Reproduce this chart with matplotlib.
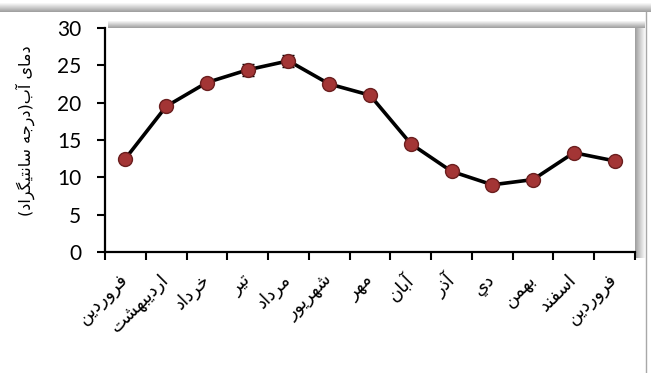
import numpy as np
import matplotlib
matplotlib.use('Agg')
import matplotlib.pyplot as plt

# data
months = ['فروردین', 'اردیبهشت', 'خرداد', 'تیر', 'مرداد', 'شهریور', 'مهر',
          'آبان', 'آذر', 'دي', 'بهمن', 'اسفند', 'فروردین']
temps = [12.5, 19.5, 22.7, 24.4, 25.6, 22.5, 21.0, 14.5, 10.8, 9.0, 9.7, 13.3, 12.2]
errs = [0.3, 0.3, 0.3, 0.8, 0.85, 0.3, 0.3, 0.3, 0.3, 0.3, 0.3, 0.3, 0.3]
ylabel = 'دمای آب(درجه سانتیگراد)'
yticks = [0, 5, 10, 15, 20, 25, 30]

# matplotlib has no arabic shaping, so pick presentation forms by hand
# (isolated, final, initial, medial); None = does not join to the next letter
forms = {
  'ا': ('\uFE8D', '\uFE8E', None, None),
  'آ': ('\uFE81', '\uFE82', None, None),
  'د': ('\uFEA9', '\uFEAA', None, None),
  'ذ': ('\uFEAB', '\uFEAC', None, None),
  'ر': ('\uFEAD', '\uFEAE', None, None),
  'ز': ('\uFEAF', '\uFEB0', None, None),
  'و': ('\uFEED', '\uFEEE', None, None),
  'ب': ('\uFE8F', '\uFE90', '\uFE91', '\uFE92'),
  'ت': ('\uFE95', '\uFE96', '\uFE97', '\uFE98'),
  'ج': ('\uFE9D', '\uFE9E', '\uFE9F', '\uFEA0'),
  'خ': ('\uFEA5', '\uFEA6', '\uFEA7', '\uFEA8'),
  'س': ('\uFEB1', '\uFEB2', '\uFEB3', '\uFEB4'),
  'ش': ('\uFEB5', '\uFEB6', '\uFEB7', '\uFEB8'),
  'ف': ('\uFED1', '\uFED2', '\uFED3', '\uFED4'),
  'م': ('\uFEE1', '\uFEE2', '\uFEE3', '\uFEE4'),
  'ن': ('\uFEE5', '\uFEE6', '\uFEE7', '\uFEE8'),
  'ه': ('\uFEE9', '\uFEEA', '\uFEEB', '\uFEEC'),
  'ي': ('\uFEF1', '\uFEF2', '\uFEF3', '\uFEF4'),
  'ی': ('\uFBFC', '\uFBFD', '\uFBFE', '\uFBFF'),
  'گ': ('\uFB92', '\uFB93', '\uFB94', '\uFB95'),
}

def shape(s):
  out = []
  for i, c in enumerate(s):
    if c not in forms:
      out.append(c)
      continue
    prev = s[i-1] if i > 0 else None
    nxt = s[i+1] if i + 1 < len(s) else None
    jp = prev in forms and forms[prev][2] is not None
    jn = forms[c][2] is not None and nxt in forms
    if jp and jn:
      out.append(forms[c][3])
    elif jp:
      out.append(forms[c][1])
    elif jn:
      out.append(forms[c][2])
    else:
      out.append(forms[c][0])
  vis = ''.join(reversed(out))
  return vis.translate(str.maketrans('()', ')('))

fig = plt.figure(figsize=(6.51, 3.73), dpi=100)

# shadows of the frame and the plot area, in pixel coordinates
bg = fig.add_axes([0, 0, 1, 1], zorder=-1)
bg.set_xlim(0, 651)
bg.set_ylim(373, 0)
bg.axis('off')

def band(x0, x1, y0, y1, vertical, light, dark):
  g = np.linspace(light, dark, 20)
  img = g[:, None] if vertical else g[None, :]
  bg.imshow(img, cmap='gray', vmin=0, vmax=1, extent=(x0, x1, y1, y0),
            aspect='auto', interpolation='bilinear')

band(0, 651, 3, 12, True, 0.98, 0.62)
bg.plot([646, 646], [12, 373], color='#a8a8a8', lw=1)
band(108, 645, 21, 28, True, 0.97, 0.62)
band(635, 645, 28, 258, False, 0.62, 0.97)
bg.set_xlim(0, 651)
bg.set_ylim(373, 0)

ax = fig.add_axes([105/651, 1 - 252/373, 530/651, 224/373])
ax.patch.set_alpha(0)
x = np.arange(len(months))
ax.errorbar(x, temps, yerr=errs, color='black', lw=2.6, capsize=4.5,
            elinewidth=1.4, capthick=1.4, marker='o', markersize=10,
            markerfacecolor='#a33535', markeredgecolor='#6b1f1f',
            markeredgewidth=1)

ax.set_xlim(-0.5, 12.5)
ax.set_ylim(0, 30)
ax.set_yticks(yticks)
ax.set_yticklabels([str(v) for v in yticks], fontfamily='Lato', fontsize=15)
ax.set_xticks(x)
ax.set_xticklabels([shape(m) for m in months], rotation=45, ha='right',
                   va='center', rotation_mode='anchor',
                   fontfamily='DejaVu Sans', fontsize=13)
ax.set_xticks(np.arange(-0.5, 13, 1), minor=True)
ax.tick_params(axis='x', which='major', length=0, pad=18)
ax.tick_params(axis='x', which='minor', length=6, width=1.5, direction='out')
ax.tick_params(axis='y', length=6, width=1.5, direction='out', pad=11)
for s in ['top', 'right']:
  ax.spines[s].set_visible(False)
for s in ['left', 'bottom']:
  ax.spines[s].set_linewidth(1.6)

fig.text(25/651, 1 - 131/373, shape(ylabel), rotation=90, ha='center',
         va='center', fontfamily='DejaVu Sans', fontsize=11.5)

plt.savefig('out.png', dpi=100)
